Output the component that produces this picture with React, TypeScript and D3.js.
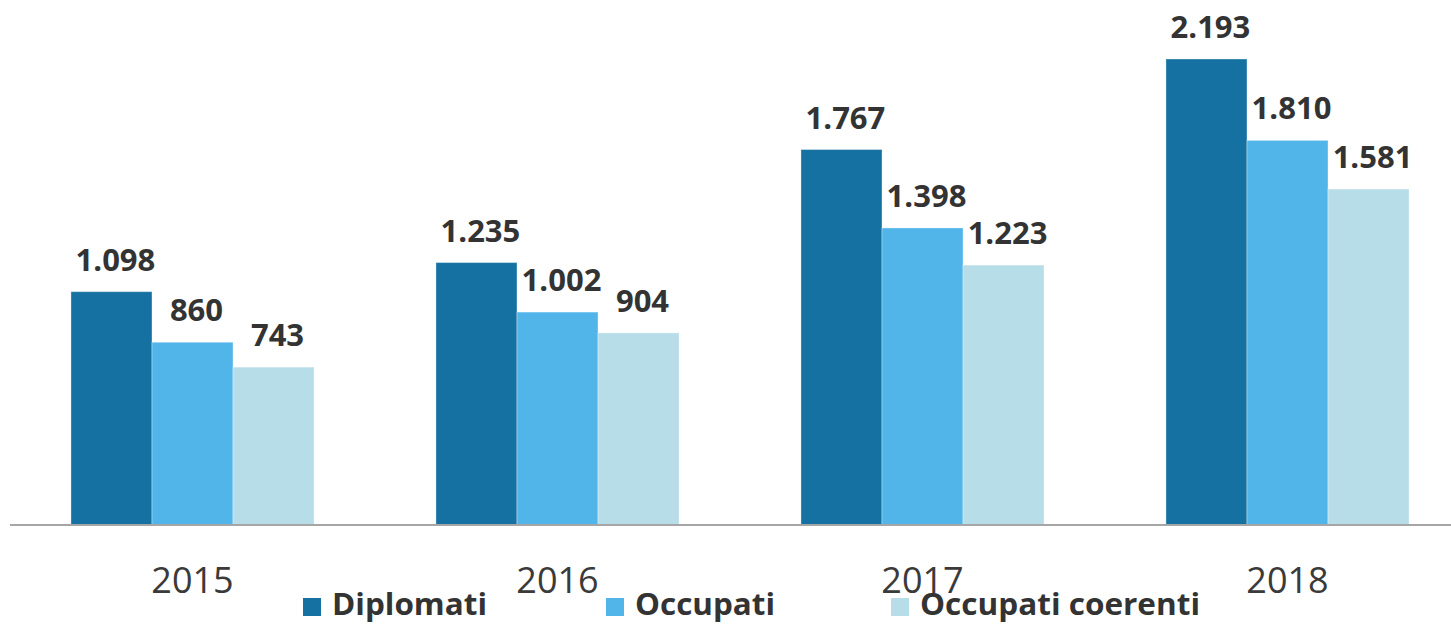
import React from 'react';
import * as d3 from 'd3';

const years = ['2015', '2016', '2017', '2018'];
const seriesNames = ['Diplomati', 'Occupati', 'Occupati coerenti'];
const diplomati = [1098, 1235, 1767, 2193];
const occupati = [860, 1002, 1398, 1810];
const coerenti = [743, 904, 1223, 1581];
const colors = ['#1471A1', '#51B5EA', '#B7DEE8'];

const W = 1451;
const H = 624;
const FONT = "'Open Sans', 'Noto Sans', sans-serif";

const fmt = (v: number) => d3.format(',')(v).replace(/,/g, '.');

export default function App() {
  const series = [diplomati, occupati, coerenti];
  const rows = years.map((y, i) => ({ year: y, values: series.map(s => s[i]) }));

  const x0 = d3.scaleBand<string>().domain(years).range([10, 1470]).paddingInner(0.334).paddingOuter(0.167);
  const x1 = d3.scaleBand<string>().domain(seriesNames).range([0, x0.bandwidth()]);
  const y = d3.scaleLinear().domain([0, 2193]).range([525, 59]);

  // legend positions / text widths
  const legendX = [303, 606, 891];
  const legendW = [155, 140, 280];

  return (
    <div style={{ position: 'absolute', left: 0, top: 0 }}>
      <svg width={W} height={H} style={{ display: 'block', fontFamily: FONT }}>
        <rect width={W} height={H} fill="#fff" />
        {rows.map(r => (
          <g key={r.year} transform={`translate(${x0(r.year)},0)`}>
            {r.values.map((v, j) => (
              <g key={j}>
                <rect x={x1(seriesNames[j])} y={y(v)} width={x1.bandwidth()} height={y(0) - y(v)}
                  fill={colors[j]} stroke="#fff" strokeOpacity={0.35} strokeWidth={1} />
                <text x={(x1(seriesNames[j]) as number) + x1.bandwidth() / 2 + 4} y={y(v) - 21}
                  textAnchor="middle" fontSize={31} fontWeight={700} fill="#333">{fmt(v)}</text>
              </g>
            ))}
            <text x={x0.bandwidth() / 2} y={593} textAnchor="middle" fontSize={36} fill="#3a3a3a">{r.year}</text>
          </g>
        ))}
        <line x1={10} x2={W} y1={525} y2={525} stroke="#a6a6a6" strokeWidth={2} />
        {seriesNames.map((n, j) => (
          <g key={n}>
            <rect x={legendX[j]} y={598} width={18} height={18} fill={colors[j]} />
            <text x={legendX[j] + 29} y={615} fontSize={29.5} fontWeight={700} fill="#333"
              textLength={legendW[j]} lengthAdjust="spacingAndGlyphs">{n}</text>
          </g>
        ))}
      </svg>
    </div>
  );
}
